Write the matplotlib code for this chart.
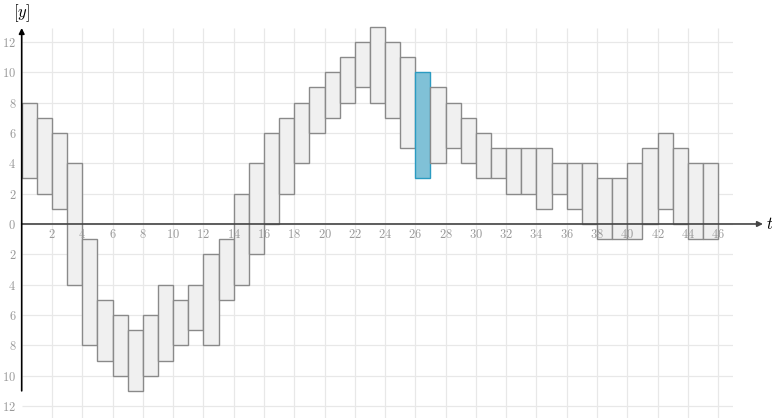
import numpy as np
import matplotlib.pyplot as plt
from matplotlib.ticker import FuncFormatter

plt.rcParams['mathtext.fontset'] = 'cm'

# interval bars: one per time step t = 0..45
t_start = list(range(46))
lows = [3, 2, 1, -4, -8, -9, -10, -11, -10, -9, -8, -7, -8, -5, -4, -2,
        0, 2, 4, 6, 7, 8, 9, 8, 7, 5, 3, 4, 5, 4, 3, 3,
        2, 2, 1, 2, 1, 0, -1, -1, -1, 0, 1, 0, -1, -1]
highs = [8, 7, 6, 4, -1, -5, -6, -7, -6, -4, -5, -4, -2, -1, 2, 4,
         6, 7, 8, 9, 10, 11, 12, 13, 12, 11, 10, 9, 8, 7, 6, 5,
         5, 5, 5, 4, 4, 4, 3, 3, 4, 5, 6, 5, 4, 4]
highlight = 26

xticks = list(range(2, 47, 2))
yticks = list(range(-12, 13, 2))

fig = plt.figure(figsize=(7.72, 4.18), dpi=100)
ax = fig.add_axes([21.7 / 772, 0, 711.6 / 772, 1 - 28 / 418])
ax.set_xlim(0, 47)
ax.set_ylim(-12.79, 12.92)

# grid drawn by hand so tick labels can stay above the bars
ax.vlines(xticks, -12.79, 12.92, color='#e8e8e8', linewidth=0.9, zorder=0)
ax.hlines(yticks, 0, 47, color='#e8e8e8', linewidth=0.9, zorder=0)

heights = np.array(highs) - np.array(lows)
cols = ['#f0f0f0'] * len(t_start)
edges = ['#8a8a8a'] * len(t_start)
cols[highlight] = '#80c1d7'
edges[highlight] = '#2b9bc1'
bars = ax.bar(t_start, heights, bottom=lows, width=1, align='edge',
              color=cols, edgecolor=edges, linewidth=1.0, zorder=1)
for b in bars:
    b.set_clip_on(False)

ax.set_xticks(xticks)
ax.set_yticks(yticks)
ax.xaxis.set_major_formatter(FuncFormatter(lambda v, p: '$%d$' % abs(v)))
ax.yaxis.set_major_formatter(FuncFormatter(lambda v, p: '$%d$' % abs(v)))
ax.tick_params(length=0, labelsize=9, labelcolor='#9a9a9a')
ax.tick_params(axis='x', pad=3)
ax.tick_params(axis='y', pad=4)

for s in ['top', 'right']:
    ax.spines[s].set_visible(False)
ax.spines['bottom'].set_position(('data', 0))
ax.spines['left'].set_position(('data', 0))
ax.spines['bottom'].set_visible(False)
ax.spines['left'].set_visible(False)

# axis arrows
ax.annotate('', xy=(48.96, 0), xytext=(0, 0), annotation_clip=False,
            arrowprops=dict(arrowstyle='-|>', color='#444444', lw=1.2,
                            mutation_scale=8, shrinkA=0, shrinkB=0),
            zorder=4)
ax.annotate('', xy=(0, 12.92), xytext=(0, -11), annotation_clip=False,
            arrowprops=dict(arrowstyle='-|>', color='black', lw=1.2,
                            mutation_scale=8, shrinkA=0, shrinkB=0),
            zorder=4)
ax.text(49.18, 0, '$t$', fontsize=12, ha='left', va='center', clip_on=False)
ax.text(0, 13.9, '$[y]$', fontsize=12, ha='center', va='center', clip_on=False)

fig.savefig('out.png', dpi=100)
